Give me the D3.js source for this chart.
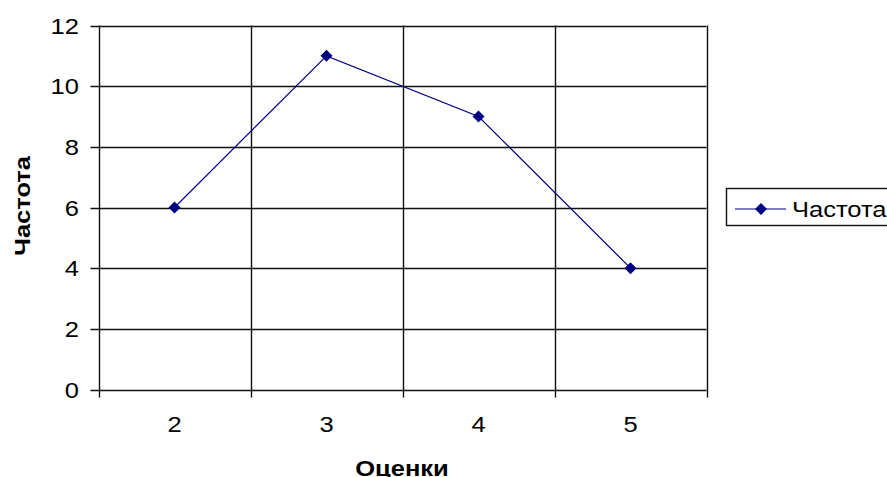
<!DOCTYPE html>
<html><head><meta charset="utf-8">
<script src="https://cdn.jsdelivr.net/npm/d3@7"></script>
<style>body{margin:0;background:#fff}svg{display:block}text{font-family:Arial,"Liberation Sans",sans-serif}</style>
</head><body><svg id="c" width="887" height="477"></svg>
<script>
const categories = ["2","3","4","5"];
const values = [6, 11, 9, 4];
const yTicks = [0, 2, 4, 6, 8, 10, 12];
const seriesName = "Частота";
const xTitle = "Оценки";
const yTitle = "Частота";

const svg = d3.select("#c");
const L = 98.5, R = 706.5, T = 25.5, B = 389.5;
const x = d3.scaleBand().domain(categories).range([L, R]).paddingInner(0).paddingOuter(0);
const y = d3.scaleLinear().domain([0, 12]).range([B, T]);
const col = "#000080";
const FS = 22, SX = 1.16;

// horizontal gridlines
svg.append("g").selectAll("line").data(yTicks).join("line")
  .attr("x1", L - 8).attr("x2", R).attr("y1", d => Math.round(y(d)) + 0.5).attr("y2", d => Math.round(y(d)) + 0.5)
  .attr("stroke", "#111").attr("stroke-width", 1.4);
// vertical gridlines at category boundaries
const bounds = categories.map(c => x(c)).concat([x(categories[categories.length-1]) + x.bandwidth()]);
svg.append("g").selectAll("line").data(bounds).join("line")
  .attr("x1", d => Math.round(d) + 0.5).attr("x2", d => Math.round(d) + 0.5)
  .attr("y1", T).attr("y2", B + 8)
  .attr("stroke", "#111").attr("stroke-width", 1.4);

// y tick labels
svg.append("g").selectAll("text").data(yTicks).join("text")
  .attr("transform", d => `translate(79,${y(d) + 8}) scale(${SX},1)`).attr("text-anchor", "end")
  .attr("font-size", FS).attr("fill", "#000").text(d => d);
// x tick labels
svg.append("g").selectAll("text").data(categories).join("text")
  .attr("transform", d => `translate(${x(d) + x.bandwidth()/2},432) scale(${SX},1)`).attr("text-anchor", "middle")
  .attr("font-size", FS).attr("fill", "#000").text(d => d);

// titles
svg.append("text").attr("transform", `translate(402,476) scale(${SX},1)`).attr("text-anchor", "middle")
  .attr("font-size", FS).attr("font-weight", "bold").text(xTitle);
svg.append("text").attr("transform", `translate(30,206) rotate(-90) scale(${SX},1)`).attr("text-anchor", "middle")
  .attr("font-size", FS).attr("font-weight", "bold").text(yTitle);

// line
const line = d3.line().x((d,i) => x(categories[i]) + x.bandwidth()/2).y(d => y(d));
svg.append("path").datum(values).attr("d", line).attr("fill", "none").attr("stroke", col).attr("stroke-width", 1.2);
const sym = d3.symbol().type(d3.symbolSquare).size(72);
svg.append("g").selectAll("path").data(values).join("path")
  .attr("d", sym)
  .attr("transform", (d,i) => `translate(${x(categories[i]) + x.bandwidth()/2},${y(d)}) rotate(45)`)
  .attr("fill", col);

// legend
const lg = svg.append("g");
lg.append("rect").attr("x", 726.5).attr("y", 188.5).attr("width", 170).attr("height", 37)
  .attr("fill", "#fff").attr("stroke", "#111").attr("stroke-width", 1.4);
lg.append("line").attr("x1", 735).attr("x2", 786).attr("y1", 209).attr("y2", 209).attr("stroke", col).attr("stroke-width", 1.2);
lg.append("path").attr("d", sym).attr("transform", "translate(761,209) rotate(45)").attr("fill", col);
lg.append("text").attr("transform", `translate(792,217) scale(${SX},1)`).attr("font-size", FS).text(seriesName);
</script></body></html>
